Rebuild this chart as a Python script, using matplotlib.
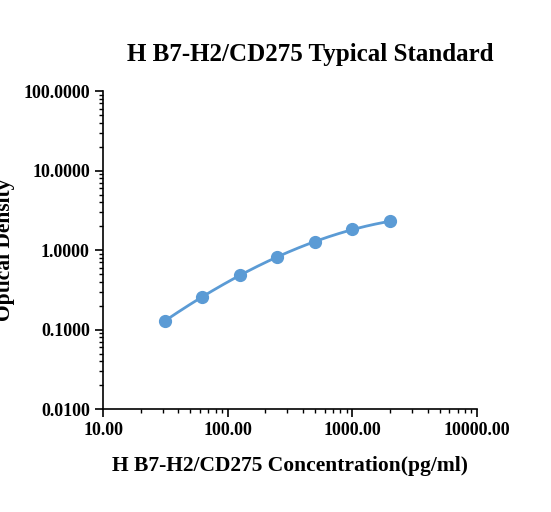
import numpy as np
import matplotlib
matplotlib.use("Agg")
import matplotlib.pyplot as plt
from matplotlib.ticker import FixedLocator, LogLocator, NullFormatter

conc = [31.25, 62.5, 125, 250, 500, 1000, 2000]
od = [0.128, 0.26, 0.48, 0.82, 1.28, 1.82, 2.30]
xticks = [10, 100, 1000, 10000]
xlabels = ["10.00", "100.00", "1000.00", "10000.00"]
yticks = [0.01, 0.1, 1, 10, 100]
ylabels = ["0.0100", "0.1000", "1.0000", "10.0000", "100.0000"]

plt.rcParams['font.family'] = ['Liberation Serif', 'DejaVu Serif']
fig = plt.figure(figsize=(5.51, 5.12), dpi=100)
ax = fig.add_axes([0.187, 0.201, 0.679, 0.621])
c = "#5b9bd5"
lx, ly = np.log10(conc), np.log10(od)
p = np.polyfit(lx, ly, 3)
xs = np.linspace(lx[0], lx[-1], 200)
ax.plot(10**xs, 10**np.polyval(p, xs), color=c, lw=2)
ax.plot(conc, od, 'o', color=c, ms=8.5)
ax.set_xscale('log'); ax.set_yscale('log')
ax.set_xlim(10, 10000); ax.set_ylim(0.01, 100)
ax.xaxis.set_major_locator(FixedLocator(xticks))
ax.set_xticklabels(xlabels, fontweight='bold', fontsize=13)
ax.yaxis.set_major_locator(FixedLocator(yticks))
ax.set_yticklabels(ylabels, fontweight='bold', fontsize=13)
ax.xaxis.set_minor_locator(LogLocator(base=10, subs=np.arange(2, 10)))
ax.yaxis.set_minor_locator(LogLocator(base=10, subs=np.arange(2, 10)))
ax.xaxis.set_minor_formatter(NullFormatter()); ax.yaxis.set_minor_formatter(NullFormatter())
ax.tick_params(which='major', length=6, width=1.2)
ax.tick_params(which='minor', length=3, width=1)
for s in ['top', 'right']:
    ax.spines[s].set_visible(False)
for s in ['left', 'bottom']:
    ax.spines[s].set_linewidth(1.2)
ax.set_xlabel("H B7-H2/CD275 Concentration(pg/ml)", fontweight='bold', fontsize=15.5, labelpad=12)
ax.set_ylabel("Optical Density", fontweight='bold', fontsize=15.5, labelpad=6)
fig.text(0.563, 0.88, "H B7-H2/CD275 Typical Standard", ha='center', fontweight='bold', fontsize=18)
fig.savefig("out.png")
